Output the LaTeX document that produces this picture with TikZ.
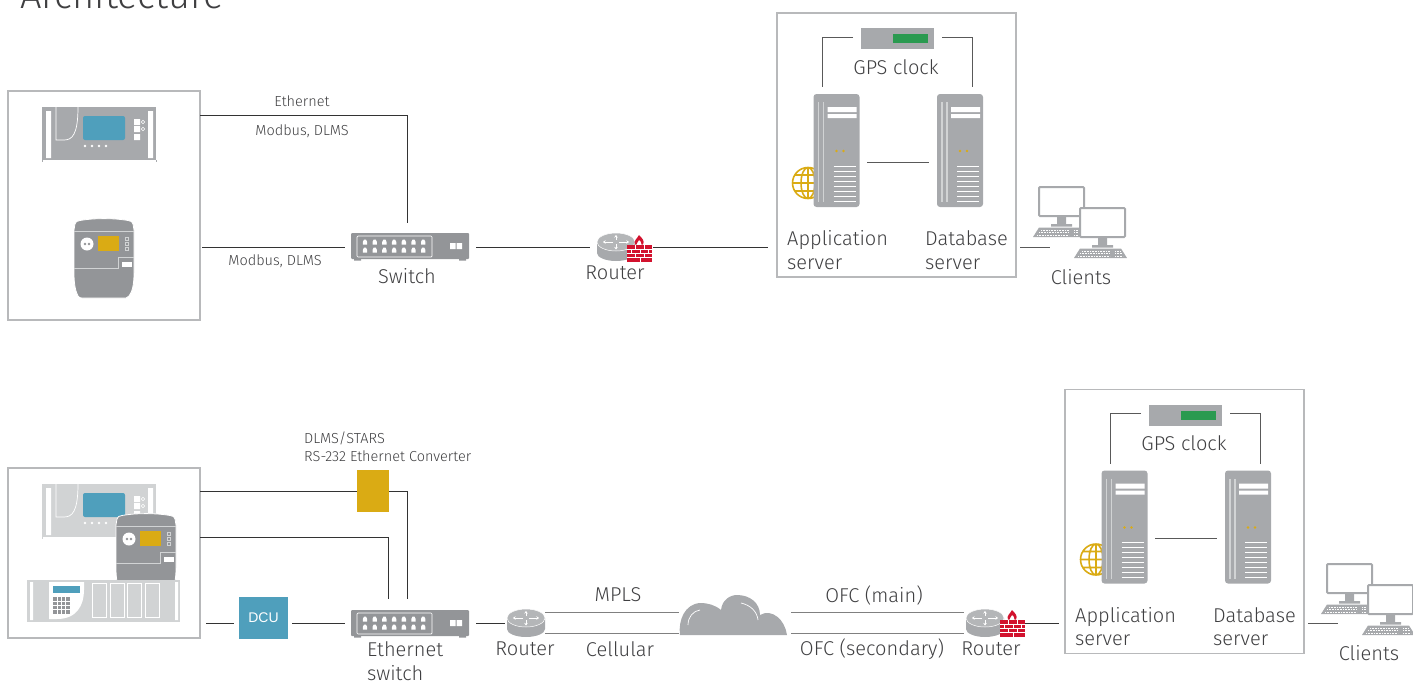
\documentclass[tikz,border=0pt]{standalone}
\usepackage{fontspec}
\usepackage{xcolor}
\setmainfont{Fira Sans Light}
\newfontfamily\dcufont{Liberation Sans}
\usetikzlibrary{
    arrows.meta,
    calc,
    positioning
}
\definecolor{iconlight}{HTML}{D1D3D4}
\definecolor{icongrey}{HTML}{A7A9AC}
\definecolor{icondark}{HTML}{939598}
\definecolor{tealblue}{HTML}{4F9FBC}
\definecolor{gold}{HTML}{DAAB14}
\definecolor{gpsgreen}{HTML}{2A9A50}
\definecolor{firered}{HTML}{D2122E}
\definecolor{textgrey}{HTML}{3F3F41}
\definecolor{boxline}{HTML}{B8B9BB}
\tikzset{
    lbl/.style={text=textgrey, font=\fontsize{20}{23.5}\selectfont, inner sep=0pt, align=left},
    smalllbl/.style={text=textgrey, font=\fontsize{14.5}{18}\selectfont, inner sep=0pt, align=left},
    link/.style={draw=black!80, line width=1pt},
    softlink/.style={draw=black!65, line width=1pt},
    widelink/.style={draw=black!50, line width=1.8pt},
    unitbox/.style={draw=boxline, line width=1.4pt, inner sep=0pt, outer sep=0pt},
    spot/.style={inner sep=0pt, outer sep=0pt},
    relayicon/.pic={
        \fill[#1] (0,0) rectangle (114,53);
        \draw[#1, line width=.8pt] (0,53) -- (0,55) (114,53) -- (114,55);
        \fill[white] (4,4) rectangle (9,51) (106,4) rectangle (111,51);
        \draw[white, line width=.7pt] (14,0) -- (14,33) -- (22,33) .. controls (30,33) and (36,28) .. (36,0);
        \fill[tealblue, rounded corners=2pt] (41,9) rectangle (83,33);
        \fill[white] (92,12) rectangle (98,18) (92,19) rectangle (98,25) (92,27) rectangle (98,33);
        \draw[white, line width=.6pt] (101,15) circle (1.8) (101,22) circle (1.8);
        \foreach \dotx in {43,50,57,64}
            \fill[white] (\dotx,39) circle (1.4);
    },
    metericon/.pic={
        \path[fill=icondark, draw=white, line width=.8pt] (0,12) -- (1,6) .. controls (1.5,3.5) and (3,3) .. (6,2.5)
            .. controls (20,0) and (40,0) .. (54,2.5) .. controls (57,3) and (58.5,3.5) .. (59,6) -- (60,12) -- (60,55)
            .. controls (60,68) and (58,74) .. (55,78) .. controls (54,79.5) .. (52,80) -- (8,80)
            .. controls (6,80) and (5,79.5) .. (4,78) .. controls (2,74) and (0,68) .. (0,55) -- cycle;
        \draw[iconlight, line width=.9pt] (0,13) -- (60,13) (0,50) -- (44,50) -- (44,39) -- (60,39);
        \fill[white] (13,26) circle (6.5);
        \fill[icondark] (11,26) circle (1.3) (15,26) circle (1.3);
        \fill[gold] (24,18) rectangle (45,33);
        \draw[iconlight, line width=.6pt] (51,19) rectangle (54,22) (51,24) rectangle (54,27) (51,29) rectangle (54,32);
        \fill[white] (48,44) rectangle (58,49);
    },
    rackicon/.pic={
        \fill[iconlight] (0,0) rectangle (153,42);
        \fill[white] (3,2) rectangle (6,40) (148,2) rectangle (151,40);
        \fill[white] (22,2) -- (57,2) -- (57,10) .. controls (57,25) and (50,39) .. (30,39) -- (22,39) -- cycle;
        \fill[tealblue] (26,6) rectangle (53,13);
        \fill[icondark] (26,17) rectangle (43,34);
        \foreach \keyx in {30.25,34.5,38.75}
            \draw[white, line width=.6pt] (\keyx,17) -- (\keyx,34);
        \foreach \keyy in {21.25,25.5,29.75}
            \draw[white, line width=.6pt] (26,\keyy) -- (43,\keyy);
        \foreach \cardx in {65,83,100,118}
            \draw[white, line width=1pt] (\cardx,3) rectangle ++(14.5,34);
    },
    switchicon/.pic={
        \fill[icondark, rounded corners=1pt] (0,0) rectangle (118,26);
        \fill[icondark] (3,26) rectangle (10,27.5) (108,26) rectangle (115,27.5);
        \draw[white, line width=.7pt, rounded corners=1pt] (6,3) rectangle (81,24);
        \foreach \i in {0,...,6}
            \foreach \j in {9,17}
                \fill[white] ({14+9.7*\i-2.2},\j+2.5) -- ++(0,-2.5) -- ++(1.2,-2.5) -- ++(2,0) -- ++(1.2,2.5) -- ++(0,2.5) -- cycle;
        \fill[white] (99,10) rectangle (104.5,16) (105.5,10) rectangle (111,16);
    },
    routericon/.pic={
        \fill[icongrey] (0,9) -- (0,20) arc[start angle=180, end angle=0, x radius=19, y radius=8] -- (38,9) -- cycle;
        \path[fill=icongrey!85!white, draw=white, line width=.5pt] (19,9) ellipse[x radius=19, y radius=9];
        \draw[white, line width=.9pt, -{Stealth[length=2.5pt,width=3.5pt]}] (16,9) -- (6,9);
        \draw[white, line width=.9pt, -{Stealth[length=2.5pt,width=3.5pt]}] (22,9) -- (32,9);
        \draw[white, line width=.9pt, -{Stealth[length=2.5pt,width=3.5pt]}] (19,7) -- (19,2);
        \draw[white, line width=.9pt, -{Stealth[length=2.5pt,width=3.5pt]}] (19,11) -- (19,16.5);
    },
    firewallicon/.pic={
        \fill[firered] (0,10) rectangle (25,27);
        \draw[white, line width=.8pt] (0,14.5) -- (25,14.5) (0,18.5) -- (25,18.5) (0,22.7) -- (25,22.7)
            (8,10) -- (8,14.5) (17,10) -- (17,14.5) (4,14.5) -- (4,18.5) (13,14.5) -- (13,18.5) (21,14.5) -- (21,18.5)
            (8,18.5) -- (8,22.7) (17,18.5) -- (17,22.7) (13,22.7) -- (13,27);
        \fill[firered] (8,9.5) .. controls (6,6) and (10,4) .. (12,0) .. controls (15,3) and (18,6) .. (16,9.5) -- (14.5,9.5)
            .. controls (15,7) and (13,6) .. (12,5) .. controls (11,7) and (9.5,8) .. (9.5,9.5) -- cycle;
    },
    pcicon/.pic={
        \fill[icongrey] (18,29) rectangle (27,37) (12,37) rectangle (33,39.5);
        \fill[icongrey] (-6,50) -- (0,40.5) -- (41,40.5) -- (47,50) -- cycle;
        \draw[white, line width=.7pt, dash pattern=on 1pt off .6pt] (2,43) -- (30,43) (0,45.5) -- (30,45.5) (-2,48) -- (30,48) (35,43) -- (40,43) (35,45.5) -- (42,45.5) (35,48) -- (43,48);
        \path[fill=white, draw=icongrey, line width=2pt, rounded corners=1pt] (0,0) rectangle (45,29);
    },
    serverroom/.pic={
        \node[unitbox, anchor=north west, minimum width=239, minimum height=264] (-room) at (0,0) {};
        \fill[icongrey] (84,15) rectangle (157,36);
        \fill[gpsgreen] (116,21) rectangle (151,30);
        \node[spot, minimum width=89, minimum height=21] (-gps) at (120.5,24) {};
        \node[lbl] (-gpslbl) at (119,54) {GPS clock};
        \draw[gold, line width=1.6pt] (31,170) circle (15.5) (31,170) ellipse[x radius=7, y radius=15.5]
            (31,154.5) -- (31,185.5) (15.5,170) -- (46.5,170) (18,162) -- (44,162) (18,178) -- (44,178);
        \pic at (36.5,81) {servericon};
        \pic at (160,81) {servericon};
        \node[spot, minimum width=62, minimum height=20] (-app) at (59,149) {};
        \node[spot, minimum width=62, minimum height=20] (-db) at (183,149) {};
        \coordinate (-apptop) at (45,74);
        \coordinate (-dbtop) at (195,74);
        \draw[softlink] (-gps.west) -| (-apptop);
        \draw[softlink] (-gps.east) -| (-dbtop);
        \draw[softlink] (-app.east) -- (-db.west);
        \node[lbl, anchor=west] (-applbl) at (10,237) {Application\\server};
        \node[lbl, anchor=west] (-dblbl) at (148,237) {Database\\server};
    },
    servericon/.pic={
        \fill[icongrey, rounded corners=3pt] (0,0) rectangle (46,113);
        \draw[iconlight, line width=1.3pt] (5,8) -- (5,108) (10,8) -- (10,108);
        \fill[white] (14,13) rectangle (43,18) (14,20) rectangle (43,24);
        \fill[gold] (23,57) circle (1.4) (30,57) circle (1.4);
        \foreach \i in {0,...,7}
            \draw[white, line width=1pt] (20,72+5*\i) -- (42,72+5*\i);
    },
    cloudicon/.pic={
        \fill[icongrey] (0,40) .. controls (-2,25) and (5,9) .. (20,8) .. controls (28,8) and (35,10) .. (41,15)
            .. controls (42,5) and (50,0) .. (57,0) .. controls (70,0) and (80,8) .. (80,20)
            .. controls (92,13) and (105,25) .. (107,40) -- cycle;
        \draw[white, line width=.7pt] (8,30) .. controls (8,22) and (13,16) .. (20,15);
        \draw[white, line width=.7pt] (61,8) .. controls (70,10) and (77,16) .. (78,25);
    }
}

\begin{document}
\begin{tikzpicture}[x=1pt, y=-1pt]
    \useasboundingbox (0,0) rectangle (1413,680);
    \clip (0,0) rectangle (1413,680);
    \node[text=textgrey, font=\fontsize{38}{40}\selectfont, inner sep=0pt, anchor=base west] (title) at (20,9) {Architecture};

    \node[unitbox, minimum width=192, minimum height=229] (plantA) at (104,205.5) {};
    \pic at (42,107) {relayicon=icongrey};
    \pic at (74,218) {metericon};
    \node[spot, minimum width=124, minimum height=48] (swA) at (407,247) {};
    \pic at (351,233) {switchicon};
    \node[lbl] (swAlbl) at (407,276) {Switch};
    \node[spot, minimum width=63, minimum height=21] (rtA) at (621.5,247) {};
    \pic at (597,233) {routericon};
    \pic at (627,235) {firewallicon};
    \node[lbl] (rtAlbl) at (615,273) {Router};
    \pic (srvA) at (777,13) {serverroom};
    \node[spot, minimum width=70, minimum height=20] (pcA) at (1085,247) {};
    \pic at (1039,187) {pcicon};
    \pic at (1080,208) {pcicon};
    \node[lbl] (pcAlbl) at (1081,277) {Clients};
    \node[smalllbl] (ethlbl) at (302,101) {Ethernet};
    \node[smalllbl] (modAlbl) at (302,131) {Modbus, DLMS};
    \node[smalllbl] (modBlbl) at (275,261) {Modbus, DLMS};
    \coordinate (ethA) at (200,115);
    \draw[link] (ethA) -| (swA.north);
    \draw[link, shorten <=2pt] (plantA.east |- swA.west) -- (swA.west);
    \draw[link, shorten <=7pt] (swA.east) -- (rtA.west);
    \draw[link, shorten >=9pt] (rtA.east) -- (rtA.east -| srvA-room.west);
    \draw[softlink, shorten <=4pt] (pcA.west -| srvA-room.east) -- (pcA.west);

    \node[unitbox, minimum width=192, minimum height=170] (plantB) at (104,553) {};
    \pic at (42,484) {relayicon=iconlight};
    \pic at (116,513) {metericon};
    \pic at (27,580) {rackicon};
    \node[spot, fill=gold, minimum width=32, minimum height=42] (convB) at (373,491) {};
    \node[smalllbl, anchor=west] (convlbl) at (304,447) {DLMS/STARS\\RS-232 Ethernet Converter};
    \node[spot, fill=tealblue, text=white, font=\dcufont\fontsize{14}{16}\selectfont, minimum width=49, minimum height=42] (dcuB) at (263.5,618) {DCU};
    \node[spot, minimum width=124, minimum height=48] (swB) at (407,623) {};
    \pic at (351,610) {switchicon};
    \node[lbl, anchor=west] (swBlbl) at (367,661) {Ethernet\\switch};
    \node[spot, minimum width=38, minimum height=21] (rtB) at (526,623) {};
    \pic at (507,609) {routericon};
    \node[lbl] (rtBlbl) at (525,649) {Router};
    \node[spot, minimum width=112, minimum height=21] (cloudB) at (735,623) {};
    \pic at (680,595) {cloudicon};
    \node[spot, minimum width=61, minimum height=21] (rtC) at (994.5,623) {};
    \pic at (966,609) {routericon};
    \pic at (1000,610) {firewallicon};
    \node[lbl] (rtClbl) at (991,649) {Router};
    \pic (srvB) at (1065,389.5) {serverroom};
    \node[spot, minimum width=70, minimum height=20] (pcB) at (1373,623) {};
    \pic at (1327,564) {pcicon};
    \pic at (1368,585) {pcicon};
    \node[lbl] (pcBlbl) at (1369,653) {Clients};
    \node[lbl] (mplslbl) at (618,595) {MPLS};
    \node[lbl] (celllbl) at (620,649) {Cellular};
    \node[lbl] (ofcmlbl) at (874,595) {OFC (main)};
    \node[lbl] (ofcslbl) at (872,649) {OFC (secondary)};
    \coordinate (cabA) at (200,491);
    \coordinate (cabB) at (200,537);
    \coordinate (swBtwo) at (388,599);
    \coordinate (dcuL) at (234,623);
    \coordinate (dcuR) at (292,623);
    \draw[link] (cabA) -- (convB.west);
    \draw[link] (convB.east) -| (swB.north);
    \draw[link] (cabB) -| (swBtwo);
    \draw[link, shorten <=6pt] (plantB.east |- dcuL) -- (dcuL);
    \draw[link] (dcuR) -- (swB.west);
    \draw[link, shorten <=7pt, shorten >=2pt] (swB.east) -- (rtB.west);
    \draw[widelink] (rtB.north east) -- (cloudB.north west);
    \draw[widelink] (rtB.south east) -- (cloudB.south west);
    \draw[widelink] (cloudB.north east) -- (rtC.north west);
    \draw[widelink] (cloudB.south east) -- (rtC.south west);
    \draw[link, shorten >=6pt] (rtC.east) -- (rtC.east -| srvB-room.west);
    \draw[softlink, shorten <=4pt] (pcB.west -| srvB-room.east) -- (pcB.west);
\end{tikzpicture}
\end{document}
